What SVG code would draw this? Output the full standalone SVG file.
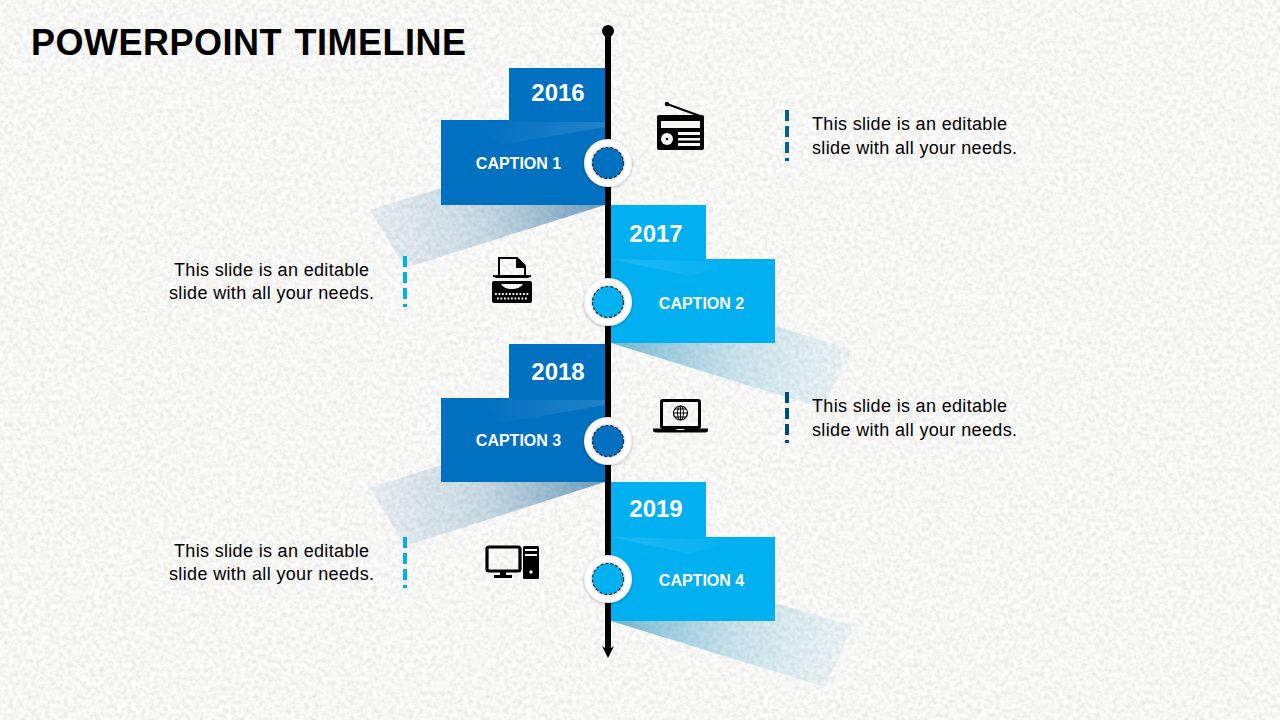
<svg xmlns="http://www.w3.org/2000/svg" width="1280" height="720" viewBox="0 0 1280 720">
<style>
text{font-family:"Liberation Sans",Arial,sans-serif}
.title{font-size:36px;font-weight:700;fill:#000}
.yr{font-size:24px;font-weight:700;fill:#fff;text-anchor:middle}
.cap{font-size:16px;font-weight:700;fill:#fff;text-anchor:middle}
.body{font-size:18px;fill:#000}
.dark{fill:#0070c0}
.light{fill:#00b0f0}
.ring{fill:url(#ringFill);filter:url(#ringShadow)}
.core{stroke:#1b2a3a;stroke-width:1.2;stroke-dasharray:3 2}
.ic{fill:#000}
.icl{fill:none;stroke:#000}
.cut{fill:#f6f6f5}
</style>
<defs>
<filter id="paper" x="0" y="0" width="100%" height="100%" color-interpolation-filters="sRGB">
<feTurbulence type="fractalNoise" baseFrequency="0.22" numOctaves="4" seed="7"/>
<feColorMatrix type="matrix" values="0.16 0 0 0 0.885 0.16 0 0 0 0.885 0.16 0 0 0 0.88 0 0 0 0 1"/>
</filter>
<filter id="ringShadow" x="-30%" y="-30%" width="160%" height="160%">
<feDropShadow dx="0" dy="1" stdDeviation="1.800" flood-color="#000" flood-opacity=".3"/>
</filter>
<radialGradient id="ringFill">
<stop offset="0" stop-color="#d0d0d0"/><stop offset=".66" stop-color="#d8d8d8"/><stop offset=".76" stop-color="#fff"/><stop offset=".93" stop-color="#fff"/><stop offset="1" stop-color="#ececec"/>
</radialGradient>
<linearGradient id="shDarkA" gradientUnits="userSpaceOnUse" x1="600" y1="205" x2="385" y2="245">
<stop offset="0" stop-color="#00558f" stop-opacity=".55"/><stop offset=".55" stop-color="#1f6a9e" stop-opacity=".22"/><stop offset="1" stop-color="#2f78a8" stop-opacity=".1"/>
</linearGradient>
<linearGradient id="shDarkB" gradientUnits="userSpaceOnUse" x1="600" y1="482" x2="385" y2="522">
<stop offset="0" stop-color="#00558f" stop-opacity=".55"/><stop offset=".55" stop-color="#1f6a9e" stop-opacity=".22"/><stop offset="1" stop-color="#2f78a8" stop-opacity=".1"/>
</linearGradient>
<linearGradient id="shLightA" gradientUnits="userSpaceOnUse" x1="620" y1="343" x2="835" y2="385">
<stop offset="0" stop-color="#1187b8" stop-opacity=".55"/><stop offset=".55" stop-color="#4aa7cc" stop-opacity=".27"/><stop offset="1" stop-color="#6dbcd8" stop-opacity=".12"/>
</linearGradient>
<linearGradient id="shLightB" gradientUnits="userSpaceOnUse" x1="620" y1="621" x2="835" y2="663">
<stop offset="0" stop-color="#1187b8" stop-opacity=".55"/><stop offset=".55" stop-color="#4aa7cc" stop-opacity=".27"/><stop offset="1" stop-color="#6dbcd8" stop-opacity=".12"/>
</linearGradient>
<linearGradient id="hlL" x1="1" y1="0" x2="0" y2="0">
<stop offset="0" stop-color="#fff" stop-opacity=".13"/><stop offset="1" stop-color="#fff" stop-opacity="0"/>
</linearGradient>
<linearGradient id="hlR" x1="0" y1="0" x2="1" y2="0">
<stop offset="0" stop-color="#fff" stop-opacity=".13"/><stop offset="1" stop-color="#fff" stop-opacity="0"/>
</linearGradient>
</defs>
<rect id="bg" width="1280" height="720" filter="url(#paper)"/>
<text class="title" x="31" y="55" textLength="435" word-spacing="2">POWERPOINT TIMELINE</text>

<g id="flag1">
<polygon points="441,188 370,210 405,268 605,205" fill="url(#shDarkA)"/>
<rect class="dark" x="509" y="68" width="96" height="53"/>
<rect class="dark" x="441" y="120" width="164" height="85"/>
<polygon points="478,122 605,122 605,127 500,145" fill="url(#hlL)"/>
<text class="yr" x="558" y="101">2016</text>
<text class="cap" x="518.500" y="169">CAPTION 1</text>
</g>
<g id="flag2">
<polygon points="775,326 853,350 822,408 611,343" fill="url(#shLightA)"/>
<rect class="light" x="611" y="205" width="95" height="55"/>
<rect class="light" x="611" y="259" width="164" height="84"/>
<polygon points="611,259 740,262 690,276" fill="url(#hlR)"/>
<text class="yr" x="656" y="242">2017</text>
<text class="cap" x="701.500" y="309">CAPTION 2</text>
</g>
<g id="flag3">
<polygon points="441,465 370,488 405,546 605,482" fill="url(#shDarkB)"/>
<rect class="dark" x="509" y="344" width="96" height="55"/>
<rect class="dark" x="441" y="398" width="164" height="84"/>
<polygon points="478,400 605,400 605,405 500,423" fill="url(#hlL)"/>
<text class="yr" x="558" y="380">2018</text>
<text class="cap" x="518.500" y="446">CAPTION 3</text>
</g>
<g id="flag4">
<polygon points="775,603 853,626 825,687 611,621" fill="url(#shLightB)"/>
<rect class="light" x="611" y="482" width="95" height="56"/>
<rect class="light" x="611" y="537" width="164" height="84"/>
<polygon points="611,537 740,540 690,554" fill="url(#hlR)"/>
<text class="yr" x="656" y="517">2019</text>
<text class="cap" x="701.500" y="586">CAPTION 4</text>
</g>

<g id="connectors">
<line x1="608" y1="31" x2="608" y2="650" stroke="#000" stroke-width="6"/>
<circle cx="608" cy="31" r="6" fill="#000"/>
<path d="M602 646 L608 650 L614 646 L608 658Z" fill="#000"/>
</g>

<g id="marker1"><circle class="ring" cx="608" cy="163" r="24"/><circle class="dark core" cx="608" cy="163" r="15.500"/></g>
<g id="marker2"><circle class="ring" cx="608" cy="302" r="24"/><circle class="light core" cx="608" cy="302" r="15.500"/></g>
<g id="marker3"><circle class="ring" cx="608" cy="441" r="24"/><circle class="dark core" cx="608" cy="441" r="15.500"/></g>
<g id="marker4"><circle class="ring" cx="608" cy="579" r="24"/><circle class="light core" cx="608" cy="579" r="15.500"/></g>

<g id="iconRadio">
<line class="icl" x1="667" y1="104" x2="700" y2="116" stroke-width="2"/>
<circle class="ic" cx="667" cy="104" r="2.300"/>
<rect class="ic" x="657" y="115" width="47" height="35" rx="2"/>
<rect class="cut" x="661" y="121" width="39" height="7"/>
<circle class="cut" cx="667" cy="139" r="6"/><circle class="ic" cx="667" cy="139" r="1.300"/>
<rect class="cut" x="678" y="132" width="22" height="3"/><rect class="cut" x="678" y="138" width="22" height="2.500"/><rect class="cut" x="678" y="143" width="22" height="3"/>
</g>
<g id="iconTypewriter">
<path class="icl" stroke-width="2" d="M499 276 V258 H517 L525 266 V276"/>
<path class="ic" d="M516 258 h2 l7 8 v2 h-9z"/>
<rect class="ic" x="495" y="275" width="34" height="3" rx="1"/>
<circle class="ic" cx="494" cy="276" r="1.200"/><circle class="ic" cx="530" cy="276" r="1.200"/>
<path class="ic" d="M494 281 H530 Q532 281 532 283 V301 Q532 303 530 303 H494 Q492 303 492 301 V283 Q492 281 494 281Z"/>
<path class="cut" d="M501 284 H523 Q520 289 512 289 Q504 289 501 284Z"/>
<path d="M495 294 H529 M497 298.500 H527" stroke="#f6f6f5" stroke-width="1.800" stroke-dasharray="1.800 1.700" fill="none"/>
</g>
<g id="iconLaptop">
<rect class="icl" x="661.500" y="400.500" width="38" height="27" rx="1.500" stroke-width="3"/>
<circle class="icl" cx="680.500" cy="413" r="7" stroke-width="1.200"/>
<ellipse class="icl" cx="680.500" cy="413" rx="3" ry="7" stroke-width="1"/>
<path class="icl" stroke-width="1" d="M680.500 406 V420 M673.500 413 H687.500 M675 409 H686 M675 417 H686"/>
<path class="ic" d="M653 428.500 H676 Q676 430 678 430 H683 Q685 430 685 428.500 H708 V430 Q708 432.500 705 432.500 H656 Q653 432.500 653 430Z"/>
</g>
<g id="iconComputer">
<rect class="icl" x="487" y="547" width="33" height="24" rx="2" stroke-width="3.200"/>
<rect class="ic" x="500" y="572" width="6" height="4"/>
<rect class="ic" x="494" y="575" width="18" height="3"/>
<rect class="ic" x="523" y="546" width="16" height="33" rx="1.500"/>
<rect class="cut" x="525" y="549" width="12" height="2"/>
<rect class="cut" x="525" y="554" width="12" height="2"/>
<circle class="cut" cx="531" cy="572" r="1.700"/>
</g>

<g id="note1">
<line x1="787" y1="110" x2="787" y2="161" stroke="#00628a" stroke-width="4" stroke-dasharray="11 5"/>
<text class="body" x="812" y="130" textLength="195">This slide is an editable</text>
<text class="body" x="812" y="154" textLength="205">slide with all your needs.</text>
</g>
<g id="note2">
<line x1="405" y1="256" x2="405" y2="307" stroke="#00b0f0" stroke-width="4" stroke-dasharray="11 5"/>
<text class="body" x="174" y="276" textLength="195">This slide is an editable</text>
<text class="body" x="169" y="299" textLength="205">slide with all your needs.</text>
</g>
<g id="note3">
<line x1="787" y1="392" x2="787" y2="443" stroke="#004a7c" stroke-width="4" stroke-dasharray="11 5"/>
<text class="body" x="812" y="412" textLength="195">This slide is an editable</text>
<text class="body" x="812" y="436" textLength="205">slide with all your needs.</text>
</g>
<g id="note4">
<line x1="405" y1="537" x2="405" y2="588" stroke="#00b0f0" stroke-width="4" stroke-dasharray="11 5"/>
<text class="body" x="174" y="557" textLength="195">This slide is an editable</text>
<text class="body" x="169" y="580" textLength="205">slide with all your needs.</text>
</g>
</svg>
